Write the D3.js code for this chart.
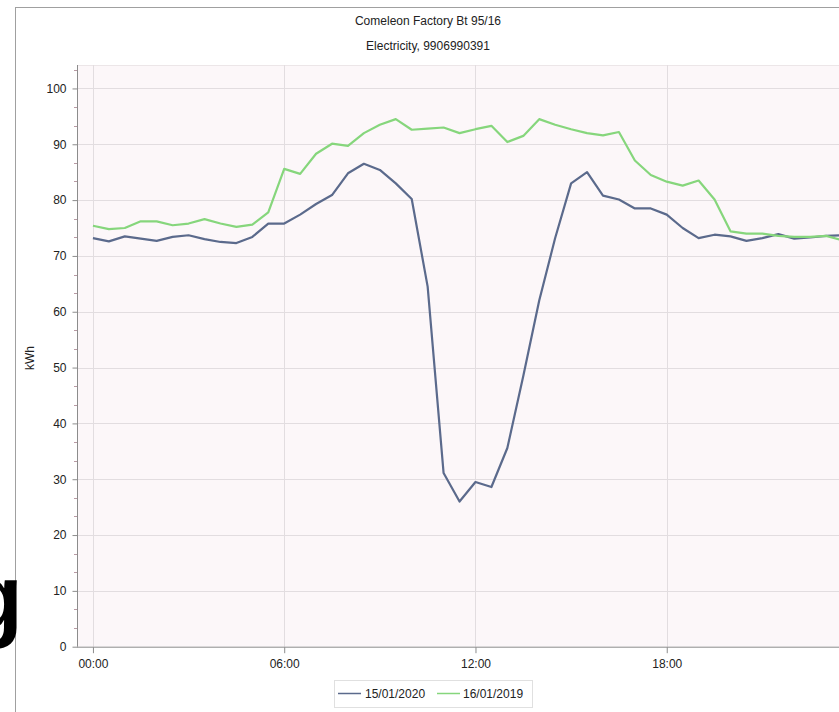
<!DOCTYPE html>
<html><head><meta charset="utf-8">
<script src="https://cdn.jsdelivr.net/npm/d3@7"></script>
<style>
html,body{margin:0;padding:0;background:#fff;overflow:hidden;}
text{font-family:"Liberation Sans",Arial,sans-serif;}
</style></head>
<body>
<svg id="c" width="839" height="712"></svg>
<script>
const title = "Comeleon Factory Bt 95/16";
const subtitle = "Electricity, 9906990391";
const yLabel = "kWh";
const seriesNames = ["15/01/2020", "16/01/2019"];
const seriesColors = ["#5b6a8c", "#86d67c"];
const hours = d3.range(48).map(i => i * 0.5);
const xTickHours = [0, 6, 12, 18];
const xTickLabels = ["00:00", "06:00", "12:00", "18:00"];
const yTicks = [0,10,20,30,40,50,60,70,80,90,100];

const s2020 = [73.2,72.6,73.5,73.1,72.7,73.4,73.7,73.0,72.5,72.3,73.4,75.8,
               75.8,77.4,79.3,80.9,84.8,86.5,85.4,83.0,80.2,64.5,31.1,26.0,
               29.5,28.6,35.6,48.5,62.0,73.2,83.0,85.0,80.8,80.1,78.5,78.5,
               77.4,75.0,73.2,73.8,73.5,72.7,73.2,73.9,73.1,73.3,73.6,73.7];
const s2019 = [75.4,74.8,75.0,76.2,76.2,75.5,75.8,76.6,75.8,75.2,75.6,77.8,
               85.6,84.7,88.3,90.1,89.7,92.0,93.5,94.5,92.6,92.8,93.0,92.0,
               92.7,93.3,90.4,91.5,94.5,93.5,92.7,92.0,91.6,92.2,87.1,84.5,
               83.3,82.6,83.5,80.1,74.4,74.0,74.0,73.6,73.4,73.4,73.6,72.8];

const svg = d3.select("#c");
const L = 77, T = 65, B = 646.7, R = 858;
const x = d3.scaleLinear().domain([-0.5, 24]).range([L, R]);
const y = d3.scaleLinear().domain([0, 104.2]).range([B, T]);

// outer frame
svg.append("line").attr("x1",15.5).attr("x2",15.5).attr("y1",7).attr("y2",712).attr("stroke","#a0a0a0");
svg.append("line").attr("x1",15).attr("x2",839).attr("y1",7.5).attr("y2",7.5).attr("stroke","#a0a0a0");

// big clipped glyph at left
svg.append("text").attr("x",23).attr("y",630).attr("text-anchor","end")
  .attr("font-size",92).attr("font-weight","bold").attr("fill","#000").text("g");

// titles
svg.append("text").attr("x",428).attr("y",25).attr("text-anchor","middle").attr("font-size",12).attr("fill","#222").text(title);
svg.append("text").attr("x",428).attr("y",50).attr("text-anchor","middle").attr("font-size",12).attr("fill","#222").text(subtitle);

// plot bg
svg.append("rect").attr("x",L).attr("y",T).attr("width",R-L).attr("height",B-T).attr("fill","#fcf7f9");
svg.append("line").attr("x1",L).attr("x2",839).attr("y1",T+0.5).attr("y2",T+0.5).attr("stroke","#ece6e8");

// grid
svg.append("g").selectAll("line").data(yTicks.filter(d=>d>0)).join("line")
  .attr("x1",L).attr("x2",R).attr("y1",d=>Math.round(y(d))+0.5).attr("y2",d=>Math.round(y(d))+0.5)
  .attr("stroke","#e2dde0");
svg.append("g").selectAll("line").data(xTickHours).join("line")
  .attr("y1",T).attr("y2",B).attr("x1",d=>Math.round(x(d))+0.5).attr("x2",d=>Math.round(x(d))+0.5)
  .attr("stroke","#e2dde0");

// y minor ticks
const minor = d3.range(0, 104, 10/3).filter(v => Math.abs(v/10 - Math.round(v/10)) > 0.01);
svg.append("g").selectAll("line").data(minor).join("line")
  .attr("x1",L-3).attr("x2",L).attr("y1",d=>Math.round(y(d))+0.5).attr("y2",d=>Math.round(y(d))+0.5)
  .attr("stroke","#b89aa4");

// y axis
const yAxis = svg.append("g").attr("transform",`translate(${L+0.5},0)`)
  .call(d3.axisLeft(y).tickValues(yTicks).tickSize(5).tickPadding(6));
yAxis.select(".domain").attr("stroke","#8c8c8c").attr("d",`M0,${T}V${B}`);
yAxis.selectAll(".tick line").attr("stroke","#8c8c8c");
yAxis.selectAll("text").attr("font-size",12).attr("fill","#222").attr("font-family","Liberation Sans, Arial, sans-serif");

// x axis
const xAxis = svg.append("g").attr("transform",`translate(0,${B+0.5})`)
  .call(d3.axisBottom(x).tickValues(xTickHours).tickFormat((d,i)=>xTickLabels[i]).tickSize(6).tickPadding(6));
xAxis.select(".domain").attr("stroke","#8c8c8c").attr("d",`M${L},0H${R}`);
xAxis.selectAll(".tick line").attr("stroke","#8c8c8c");
xAxis.selectAll("text").attr("font-size",12).attr("fill","#222").attr("font-family","Liberation Sans, Arial, sans-serif");

svg.append("text").attr("transform","translate(34,358) rotate(-90)").attr("text-anchor","middle")
  .attr("font-size",12).attr("fill","#222").text(yLabel);

// lines
svg.append("clipPath").attr("id","clip").append("rect").attr("x",L).attr("y",T).attr("width",R-L).attr("height",B-T);
const line = d3.line().x((d,i)=>x(hours[i])).y(d=>y(d));
[s2020, s2019].forEach((s, k) => {
  svg.append("path").datum(s).attr("d", line).attr("fill","none")
    .attr("stroke", seriesColors[k]).attr("stroke-width",2.2).attr("stroke-linejoin","round")
    .attr("clip-path","url(#clip)");
});
// draw 2019 under? keep order: 2020 first then 2019 on top

// legend
const lg = svg.append("g");
lg.append("rect").attr("x",334.5).attr("y",680.5).attr("width",198).attr("height",27)
  .attr("fill","#fff").attr("stroke","#e0e0e0");
const items = [{x:338, tx:365}, {x:437, tx:463}];
items.forEach((it,k)=>{
  lg.append("line").attr("x1",it.x).attr("x2",it.x+23).attr("y1",693.5).attr("y2",693.5)
    .attr("stroke",seriesColors[k]).attr("stroke-width",1.5);
  lg.append("text").attr("x",it.tx).attr("y",698).attr("font-size",12).attr("fill","#222").text(seriesNames[k]);
});
</script>
</body></html>
